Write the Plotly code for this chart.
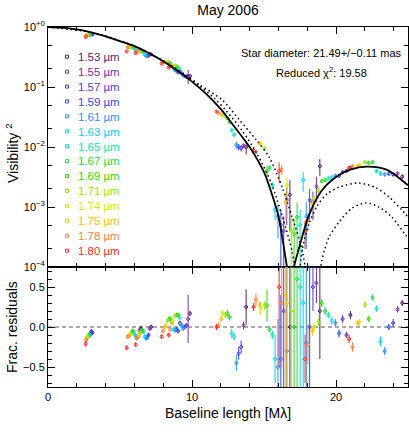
import plotly.graph_objects as go

wavelengths = ["1.53", "1.55", "1.57", "1.59", "1.61", "1.63", "1.65",
               "1.67", "1.69", "1.71", "1.74", "1.75", "1.78", "1.80"]
colors = ["#5a1f6e", "#7b2fa8", "#5236d8", "#2a4cf0", "#2a90ff", "#00d2ff", "#00e8b0",
          "#19dc3c", "#33d800", "#8fe800", "#d2e800", "#ffc000", "#ff8040", "#ff2a2a"]

# fitted model (solid) and two comparison models (dotted); None splits the lobes
model_x = [0, 1, 2, 3, 4, 5, 6, 7, 8, 9, 10, 11, 12, 13, 14, 15, 15.5, 16, 16.5, 16.85,
           None, 16.95, 17.1, 17.44, 18.13, 19.03, 20.2, 21.0, 22.1, 23.5, 25.0]
model_v2 = [1.0, 0.977, 0.912, 0.817, 0.700, 0.582, 0.479, 0.367, 0.269, 0.186, 0.123,
            0.0759, 0.0427, 0.0209, 0.0100, 0.0038, 0.00178, 0.00071, 0.00014, 0.00004,
            None, 0.00007, 0.000105, 0.00021, 0.00074, 0.0019, 0.0034, 0.0042, 0.0047, 0.0042, 0.0023]

dot1_x = [0, 3, 6, 8, 9.5, 10.5, 11.56, 12.39, 13.49, 14.53, 15.5, 16.26, 16.96, 17.3,
          None, 17.35, 17.65, 18.13, 18.7, 19.38, 20.21, 21.59, 22.77, 23.67, 24.57, 25.0]
dot1_v2 = [1.0, 0.817, 0.479, 0.272, 0.158, 0.105, 0.0646, 0.0398, 0.0186, 0.00759, 0.00251,
           0.000708, 0.000178, 0.00004,
           None, 0.0000316, 0.000191, 0.000525, 0.00105, 0.00166, 0.00214, 0.00251, 0.00209,
           0.00148, 0.00089, 0.00068]

dot2_x = [0, 3, 6, 8, 9.5, 10.5, 12.11, 13.29, 14.46, 15.36, 16.26, 16.96, 17.65, 18.1,
          None, 18.7, 19.03, 19.52, 20.21, 21.11, 22.08, 22.98, 23.88, 24.84, 25.0]
dot2_v2 = [1.0, 0.817, 0.479, 0.272, 0.162, 0.110, 0.0603, 0.0282, 0.0132, 0.00676, 0.00214,
           0.000676, 0.000191, 0.00004,
           None, 0.0000316, 0.000132, 0.000316, 0.000562, 0.000955, 0.00117, 0.001, 0.000676,
           0.000339, 0.000302]

# observations, one group per baseline; each list is ordered 1.53 ... 1.80 um
g1_x = [3.08, 3.04, 3.00, 2.96, 2.93, 2.89, 2.86, 2.82, 2.79, 2.76, 2.71, 2.69, 2.65, 2.62]
g1_v2 = [0.75, 0.76, 0.77, 0.75, 0.74, 0.74, 0.75, 0.75, 0.74, 0.74, 0.73, 0.73, 0.71, 0.68]
g1_v2err = [0.012, 0.012, 0.012, 0.012, 0.012, 0.012, 0.012, 0.012, 0.012, 0.012, 0.012, 0.012, 0.012, 0.014]
g1_res = [-0.07, -0.06, -0.06, -0.08, -0.10, -0.10, -0.10, -0.10, -0.12, -0.12, -0.13, -0.14, -0.16, -0.21]
g1_reserr = [0.03, 0.03, 0.03, 0.03, 0.03, 0.03, 0.03, 0.03, 0.03, 0.03, 0.03, 0.03, 0.03, 0.04]

g2a_x = [6.44, 6.36, 6.28, 6.20, 6.12, 6.05, 5.97, 5.90, 5.83, 5.76, 5.66, 5.63, 5.54, 5.47]
g2a_v2 = [0.417, 0.419, 0.392, 0.395, 0.408, 0.425, 0.448, 0.464, 0.464, 0.461, 0.461, 0.457, 0.461, 0.393]
g2a_v2err = [0.01, 0.01, 0.01, 0.01, 0.01, 0.01, 0.01, 0.01, 0.01, 0.01, 0.01, 0.01, 0.01, 0.01]
g2a_res = [-0.02, -0.04, -0.12, -0.13, -0.12, -0.10, -0.07, -0.05, -0.06, -0.08, -0.10, -0.11, -0.12, -0.26]
g2a_reserr = [0.03, 0.03, 0.03, 0.03, 0.03, 0.03, 0.03, 0.03, 0.03, 0.03, 0.03, 0.03, 0.03, 0.03]

g2b_x = [7.16, 7.07, 6.98, 6.89, 6.80, 6.72, 6.64, 6.56, 6.48, 6.41, 6.30, 6.26, 6.15, 6.09]
g2b_v2 = [0.350, 0.353, 0.332, 0.329, 0.333, 0.348, 0.380, 0.396, 0.401, 0.400, 0.398, 0.393, 0.396, 0.365]
g2b_v2err = [0.01, 0.01, 0.01, 0.01, 0.01, 0.01, 0.01, 0.01, 0.01, 0.01, 0.01, 0.01, 0.01, 0.01]
g2b_res = [0.00, -0.02, -0.10, -0.13, -0.14, -0.12, -0.06, -0.04, -0.05, -0.07, -0.10, -0.12, -0.14, -0.22]
g2b_reserr = [0.03, 0.03, 0.03, 0.03, 0.03, 0.03, 0.03, 0.03, 0.03, 0.03, 0.03, 0.03, 0.03, 0.03]

g3a_x = [9.28, 9.16, 9.04, 8.93, 8.82, 8.71, 8.61, 8.50, 8.40, 8.30, 8.16, 8.11, 7.98, 7.89]
g3a_v2 = [0.169, 0.183, 0.174, 0.185, 0.191, 0.201, 0.226, 0.246, 0.255, 0.260, 0.259, 0.258, 0.257, 0.245]
g3a_v2err = [0.006, 0.006, 0.006, 0.006, 0.006, 0.006, 0.006, 0.006, 0.006, 0.006, 0.006, 0.006, 0.006, 0.006]
g3a_res = [0.02, 0.05, -0.05, -0.03, -0.04, -0.03, 0.05, 0.10, 0.10, 0.08, 0.02, 0.00, -0.05, -0.12]
g3a_reserr = [0.03, 0.03, 0.03, 0.03, 0.03, 0.03, 0.03, 0.03, 0.03, 0.03, 0.03, 0.03, 0.03, 0.03]

g3b_x = [9.86, 9.73, 9.61, 9.49, 9.37, 9.26, 9.14, 9.03, 8.93, 8.82, 8.67, 8.62, 8.48, 8.38]
g3b_v2 = [0.152, 0.152, 0.148, 0.152, 0.157, 0.170, 0.197, 0.212, 0.220, 0.227, 0.227, 0.225, 0.218, 0.211]
g3b_v2err = [0.006, 0.040, 0.006, 0.006, 0.006, 0.006, 0.006, 0.006, 0.006, 0.006, 0.006, 0.006, 0.006, 0.006]
g3b_res = [0.17, 0.10, 0.02, 0.00, -0.02, 0.02, 0.12, 0.15, 0.15, 0.14, 0.08, 0.05, -0.03, -0.10]
g3b_reserr = [0.03, 0.30, 0.03, 0.03, 0.03, 0.03, 0.03, 0.03, 0.03, 0.03, 0.03, 0.03, 0.03, 0.03]

g4_x = [13.76, 13.58, 13.41, 13.24, 13.08, 12.92, 12.76, 12.61, 12.46, 12.31, 12.10, 12.03, 11.83, 11.70]
g4_v2 = [0.0100, 0.0105, 0.0096, 0.0100, 0.0108, 0.0160, 0.0190, 0.0260, 0.0300, 0.0320, 0.0340, 0.0350, 0.0370, 0.0390]
g4_v2err = [0.0025, 0.0010, 0.0012, 0.0012, 0.0015, 0.0012, 0.0012, 0.0012, 0.0012, 0.0012, 0.0012, 0.0012, 0.0012, 0.0012]
g4_res = [0.25, 0.02, -0.25, -0.33, -0.45, -0.12, -0.08, 0.12, 0.17, 0.15, 0.17, 0.10, 0.02, 0.00]
g4_reserr = [0.22, 0.05, 0.08, 0.08, 0.10, 0.05, 0.06, 0.04, 0.04, 0.04, 0.04, 0.04, 0.04, 0.04]

g5a_x = [16.80, 16.58, 16.37, 16.17, 15.97, 15.77, 15.58, 15.39, 15.21, 15.03, 14.77, 14.69, 14.44, 14.28]
g5a_v2 = [0.0016, 0.0013, 0.0004, 0.0005, 0.0007, 0.0009, 0.0023, 0.0045, 0.0040, 0.0095, 0.0112, 0.0117, 0.0083, 0.0088]
g5a_v2err = [0.0012, 0.0008, 0.0003, 0.0004, 0.0004, 0.0003, 0.0003, 0.0004, 0.0008, 0.0006, 0.0006, 0.0005, 0.0006, 0.0005]
g5a_res = [0.00, -0.30, 0.20, -0.40, -0.50, -0.40, -0.10, -0.03, 0.27, 0.27, 0.24, 0.28, 0.34, 0.25]
g5a_reserr = [1.50, 1.20, 1.00, 0.80, 0.60, 0.30, 0.05, 0.04, 0.20, 0.05, 0.08, 0.04, 0.08, 0.05]

g5b_x = [18.88, 18.64, 18.40, 18.17, 17.94, 17.72, 17.51, 17.30, 17.09, 16.89, 16.60, 16.51, 16.23, 16.05]
g5b_v2 = [0.0048, 0.0022, 0.0012, 0.0013, 0.0007, 0.0028, 0.0005, 0.00068, 0.00035, 0.0004, 0.0023, 0.0012, 0.0042, 0.0040]
g5b_v2err = [0.0015, 0.0010, 0.0006, 0.0007, 0.0005, 0.0010, 0.0004, 0.0005, 0.0003, 0.0003, 0.0008, 0.0006, 0.0008, 0.0015]
g5b_res = [0.20, 0.55, 0.50, 0.00, -0.20, 0.30, 0.50, 0.60, 0.00, 0.20, 0.30, 0.40, 0.30, 0.50]
g5b_reserr = [0.60, 0.25, 0.30, 1.50, 2.00, 2.00, 2.50, 3.00, 3.00, 3.00, 1.50, 1.20, 0.80, 1.00]

g7_x = [21.00, 20.73, 20.46, 20.21, 19.96, 19.71, 19.47, 19.24, 19.01, 18.79, 18.47, 18.36, 18.05, 17.85]
g7_v2 = [0.0045, 0.0040, 0.0038, 0.0033, 0.0033, 0.0031, 0.0030, 0.0028, 0.0027, 0.0019, 0.0014, 0.0011, 0.0006, 0.0004]
g7_v2err = [0.0003, 0.0003, 0.0003, 0.0003, 0.0003, 0.0003, 0.0002, 0.0002, 0.0002, 0.0002, 0.0002, 0.0002, 0.0002, 0.0002]
g7_res = [0.15, -0.10, 0.10, -0.08, 0.05, 0.08, 0.15, 0.20, 0.30, 0.06, 0.00, -0.05, -0.22, -0.40]
g7_reserr = [0.05, 0.04, 0.05, 0.05, 0.05, 0.05, 0.04, 0.05, 0.05, 0.05, 0.05, 0.06, 0.25, 0.30]

g8_x = [24.60, 24.28, 23.97, 23.67, 23.38, 23.09, 22.81, 22.54, 22.27, 22.01, 21.63, 21.51, 21.15, 20.91]
g8_v2 = [0.0032, 0.0036, 0.0035, 0.0036, 0.0035, 0.0036, 0.0040, 0.0056, 0.0054, 0.0056, 0.0050, 0.0048, 0.0048, 0.0045]
g8_v2err = [0.0003, 0.0003, 0.0003, 0.0003, 0.0003, 0.0003, 0.0003, 0.0003, 0.0003, 0.0003, 0.0003, 0.0003, 0.0003, 0.0003]
g8_res = [0.30, 0.22, 0.05, 0.00, -0.30, -0.18, 0.23, 0.37, 0.10, 0.28, 0.06, 0.05, -0.25, -0.15]
g8_reserr = [0.04, 0.04, 0.05, 0.04, 0.05, 0.06, 0.04, 0.04, 0.04, 0.04, 0.04, 0.04, 0.06, 0.05]

groups = [
    (g1_x, g1_v2, g1_v2err, g1_res, g1_reserr),
    (g2a_x, g2a_v2, g2a_v2err, g2a_res, g2a_reserr),
    (g2b_x, g2b_v2, g2b_v2err, g2b_res, g2b_reserr),
    (g3a_x, g3a_v2, g3a_v2err, g3a_res, g3a_reserr),
    (g3b_x, g3b_v2, g3b_v2err, g3b_res, g3b_reserr),
    (g4_x, g4_v2, g4_v2err, g4_res, g4_reserr),
    (g5a_x, g5a_v2, g5a_v2err, g5a_res, g5a_reserr),
    (g5b_x, g5b_v2, g5b_v2err, g5b_res, g5b_reserr),
    (g7_x, g7_v2, g7_v2err, g7_res, g7_reserr),
    (g8_x, g8_v2, g8_v2err, g8_res, g8_reserr),
]

FONT = "Liberation Sans, Arial, sans-serif"

# pixel geometry of the plotting area, used to place the hand-made legend and labels
L, R, T, B = 48, 408, 27, 387
LEG_TOP, LEG_STEP = 56.7, 14.92


def px_x(px):
    return (px - L) / (R - L)


def px_y(py):
    return (B - py) / (B - T)


fig = go.Figure()

for i, col in enumerate(colors):
    xs = [g[0][i] for g in groups]
    marker = dict(symbol="circle-open", size=3, color=col, line=dict(width=1, color=col))
    fig.add_trace(go.Scatter(
        x=xs, y=[g[1][i] for g in groups], mode="markers", marker=marker,
        error_y=dict(type="data", array=[g[2][i] for g in groups], color=col, thickness=1, width=0),
        xaxis="x", yaxis="y", showlegend=False,
    ))
    fig.add_trace(go.Scatter(
        x=xs, y=[g[3][i] for g in groups], mode="markers", marker=marker,
        error_y=dict(type="data", array=[g[4][i] for g in groups], color=col, thickness=1, width=0),
        xaxis="x2", yaxis="y2", showlegend=False,
    ))

fig.add_trace(go.Scatter(x=dot1_x, y=dot1_v2, mode="lines", connectgaps=False, showlegend=False,
                         line=dict(color="black", width=1.5, dash="1.5px,3px", shape="spline", smoothing=0.8)))
fig.add_trace(go.Scatter(x=dot2_x, y=dot2_v2, mode="lines", connectgaps=False, showlegend=False,
                         line=dict(color="black", width=1.5, dash="1.5px,3px", shape="spline", smoothing=0.8)))
fig.add_trace(go.Scatter(x=model_x, y=model_v2, mode="lines", connectgaps=False, showlegend=False,
                         line=dict(color="black", width=1.8, shape="spline", smoothing=0.8)))

axis_common = dict(showline=True, linecolor="black", linewidth=1, mirror="allticks",
                   ticks="inside", tickcolor="black", ticklen=7, showgrid=False, zeroline=False,
                   automargin=False, tickfont=dict(family=FONT, size=11, color="black"))

fig.update_layout(
    width=409, height=434,
    margin=dict(l=L, r=409 - R, t=T, b=434 - B, pad=0, autoexpand=False),
    paper_bgcolor="white", plot_bgcolor="white",
    font=dict(family=FONT, size=11, color="black"),
    title=dict(text="May 2006", x=0.5, xref="paper", y=1 - 10 / 434, yref="container",
               yanchor="middle", font=dict(family=FONT, size=14, color="black")),
    xaxis=dict(axis_common, range=[0, 25], anchor="y", domain=[0, 1], showticklabels=False,
               tickvals=[0, 10, 20],
               minor=dict(ticks="inside", dtick=2, tick0=0, ticklen=4, tickcolor="black")),
    yaxis=dict(axis_common, type="log", range=[-4, 0], anchor="x", domain=[1 / 3, 1],
               tickvals=[1e-4, 1e-3, 1e-2, 1e-1, 1],
               ticktext=["10<sup>−4</sup>", "10<sup>−3</sup>", "10<sup>−2</sup>",
                         "10<sup>−1</sup>", "10<sup>+0</sup>"],
               minor=dict(ticks="inside", ticklen=4, tickcolor="black",
                          tickvals=[2e-4, 5e-4, 2e-3, 5e-3, 2e-2, 5e-2, 0.2, 0.5])),
    xaxis2=dict(axis_common, range=[0, 25], anchor="y2", domain=[0, 1],
                tickvals=[0, 10, 20], ticktext=["0", "10", "20"],
                minor=dict(ticks="inside", dtick=2, tick0=0, ticklen=4, tickcolor="black")),
    yaxis2=dict(axis_common, range=[-0.75, 0.75], anchor="x2", domain=[0, 1 / 3],
                tickvals=[-0.5, 0, 0.5], ticktext=["−0.5", "0.0", "0.5"],
                minor=dict(ticks="inside", dtick=0.1, tick0=0, ticklen=4, tickcolor="black")),
)

# zero line of the residual panel
fig.add_shape(type="line", xref="x2 domain", yref="y2", x0=0, x1=1, y0=0, y1=0,
              line=dict(color="#555555", width=1, dash="4px,3px"), layer="below")

annotations = [
    dict(text="Visibility <sup>2</sup>", x=px_x(12), y=px_y(153), textangle=-90,
         font=dict(size=14)),
    dict(text="Frac. residuals", x=px_x(12), y=px_y(327), textangle=-90, font=dict(size=14)),
    dict(text="Baseline length [Mλ]", x=0.5, y=px_y(413), font=dict(size=14)),
    dict(text="Star diameter: 21.49+/−0.11 mas", x=px_x(321), y=px_y(53), font=dict(size=11)),
    dict(text="Reduced χ<sup>2</sup>: 19.58", x=px_x(321), y=px_y(72), font=dict(size=11)),
]
for a in annotations:
    a.update(xref="paper", yref="paper", xanchor="center", yanchor="middle", showarrow=False)
    a["font"].update(family=FONT, color="black")
    fig.add_annotation(**a)

# legend: small open squares plus one block of coloured labels (line pitch = 1.3 x font size)
for k, col in enumerate(colors):
    cy = LEG_TOP + k * LEG_STEP
    fig.add_shape(type="rect", xref="paper", yref="paper",
                  x0=px_x(65.5), x1=px_x(68.5), y0=px_y(cy + 1.5), y1=px_y(cy - 1.5),
                  line=dict(color=col, width=1), fillcolor="white")
legend_text = "<br>".join(f"<span style='color:{col}'>{wl} µm</span>"
                          for wl, col in zip(wavelengths, colors))
fig.add_annotation(text=legend_text, xref="paper", yref="paper", x=px_x(76.5),
                   y=px_y(LEG_TOP + 6.5 * LEG_STEP), xanchor="left", yanchor="middle",
                   align="left", showarrow=False, borderpad=0,
                   font=dict(family=FONT, size=LEG_STEP / 1.3, color="black"))

# the page body has a default 8px margin; drop it so the figure sits at the window origin
fig.write_html("out.html", config={"displayModeBar": False},
               post_script="document.body.style.margin='0';")
